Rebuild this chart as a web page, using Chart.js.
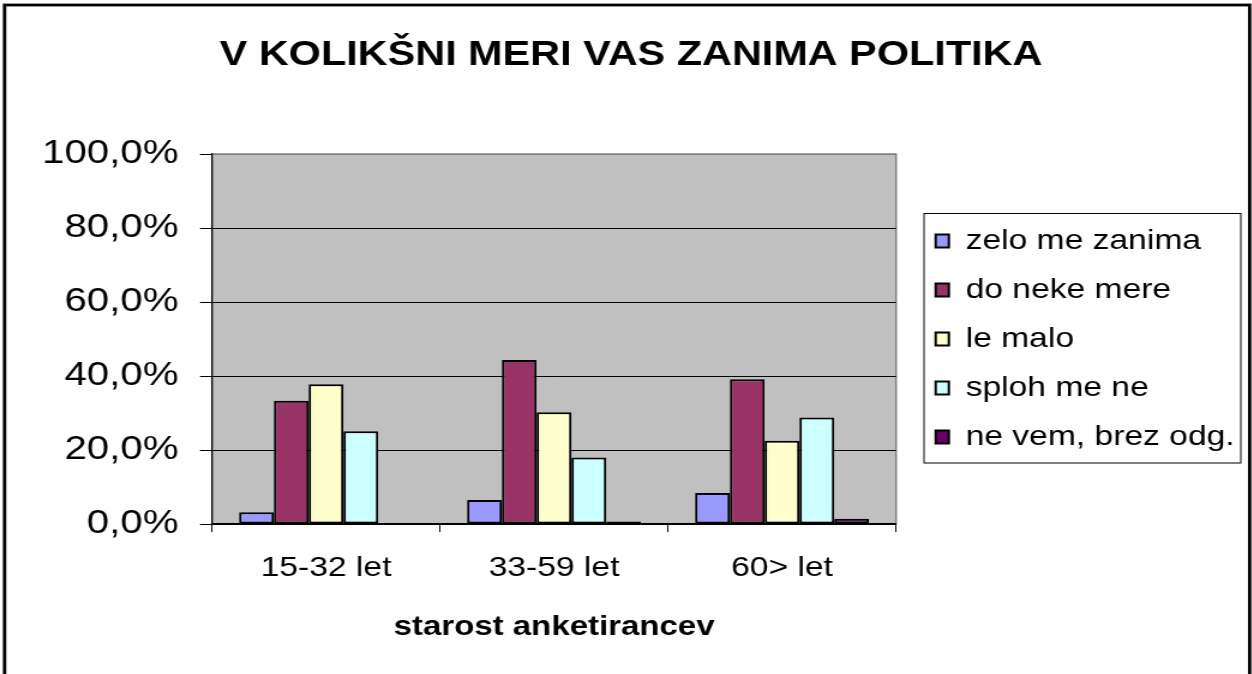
<!DOCTYPE html>
<html>
<head>
<meta charset="utf-8">
<title>V KOLIKŠNI MERI VAS ZANIMA POLITIKA</title>
<script src="https://cdn.jsdelivr.net/npm/chart.js@4.4.0/dist/chart.umd.min.js"></script>
<style>
html, body { margin: 0; padding: 0; background: #fff; overflow: hidden; }
/* the original picture is stretched sideways, so the canvas is too */
#chart { display: block; transform: scaleX(1.2); transform-origin: 0 0; }
</style>
</head>
<body>
<canvas id="chart" width="1044" height="674"></canvas>
<script>
// ─── DATA ───────────────────────────────────────────────────────────────────────
var categories = ['15-32 let', '33-59 let', '60> let'];
var seriesNames = ['zelo me zanima', 'do neke mere', 'le malo', 'sploh me ne', 'ne vem, brez odg.'];
var zeloMeZanima = [3.2, 6.5, 8.4];
var doNekeMere = [33.3, 44.3, 39.1];
var leMalo = [37.8, 30.2, 22.5];
var splohMeNe = [25.1, 18.0, 28.8];
var neVem = [0, 0.7, 1.4];
var yMin = 0;
var yMax = 100;
var yStep = 20;
var seriesColors = ['#9999FF', '#993366', '#FFFFCC', '#CCFFFF', '#660066'];

var seriesValues = [zeloMeZanima, doNekeMere, leMalo, splohMeNe, neVem];
var datasets = [];
for (var i = 0; i < seriesNames.length; i++) {
    datasets.push({
        label: seriesNames[i],
        data: seriesValues[i],
        backgroundColor: seriesColors[i],
        borderColor: '#000',
        borderWidth: 2,
        borderSkipped: false,
        categoryPercentage: 0.763,
        barPercentage: 1
    });
}

Chart.defaults.font.family = '"Liberation Sans", Arial, sans-serif';
Chart.defaults.color = '#000';

// ─── FRAME: gray plot area, legend box, outer border ────────────────────────────
var framePlugin = {
    id: 'frame',
    afterLayout: function (chart) {
        // push the legend a little right of the plot, as in the original
        var lg = chart.legend;
        var dx = 758.7 - lg.left;
        lg.left += dx;
        lg.right += dx;
    },
    beforeDraw: function (chart) {
        var ctx = chart.ctx;
        var a = chart.chartArea;
        ctx.save();
        ctx.fillStyle = '#fff';
        ctx.fillRect(0, 0, chart.width, chart.height);
        ctx.fillStyle = '#C0C0C0';
        ctx.fillRect(a.left, a.top, a.right - a.left, a.bottom - a.top);
        ctx.strokeStyle = '#808080';
        ctx.lineWidth = 1.5;
        ctx.strokeRect(a.left, a.top, a.right - a.left, a.bottom - a.top);
        ctx.restore();
    },
    afterDraw: function (chart) {
        var ctx = chart.ctx;
        ctx.save();
        ctx.strokeStyle = '#000';
        ctx.lineWidth = 1;
        ctx.strokeRect(770, 213.5, 264, 249.5);
        ctx.lineWidth = 2.8;
        ctx.strokeRect(3.8, 5, 1037.6, 720);
        ctx.restore();
    }
};

var chart = new Chart(document.getElementById('chart'), {
    type: 'bar',
    data: {
        labels: categories,
        datasets: datasets
    },
    options: {
        responsive: false,
        animation: false,
        devicePixelRatio: 1,
        layout: {
            padding: { left: 35, right: 27.3, top: 8, bottom: 0 }
        },
        plugins: {
            title: {
                display: true,
                text: 'V KOLIKŠNI MERI VAS ZANIMA POLITIKA',
                color: '#000',
                font: { size: 34.5, weight: 'bold' },
                padding: { top: 26.3, bottom: 78.3 }
            },
            legend: {
                position: 'right',
                fullSize: false,
                maxWidth: 270,
                labels: {
                    color: '#000',
                    font: { size: 28 },
                    boxWidth: 11,
                    boxHeight: 13,
                    padding: 21
                }
            },
            tooltip: { enabled: false }
        },
        scales: {
            x: {
                afterFit: function (scale) { scale.height = 150; },
                grid: {
                    drawOnChartArea: false,
                    offset: true,
                    color: '#000',
                    tickColor: '#000',
                    tickLength: 8
                },
                border: { color: '#000', width: 1.5 },
                ticks: {
                    color: '#000',
                    font: { size: 28 },
                    padding: 19,
                    maxRotation: 0
                },
                title: {
                    display: true,
                    text: 'starost anketirancev',
                    color: '#000',
                    font: { size: 27.5, weight: 'bold' },
                    padding: { top: 0, bottom: 30 }
                }
            },
            y: {
                min: yMin,
                max: yMax,
                afterFit: function (scale) { scale.width = 141.7; },
                grid: {
                    color: function (c) {
                        return c.tick && c.tick.value === yMax ? '#808080' : '#000';
                    },
                    tickColor: '#000',
                    tickLength: 10,
                    lineWidth: 1
                },
                border: { color: '#000', width: 1.2 },
                ticks: {
                    stepSize: yStep,
                    color: '#000',
                    font: { size: 33.5 },
                    padding: 18,
                    callback: function (v) {
                        return v.toFixed(1).replace('.', ',') + '%';
                    }
                }
            }
        }
    },
    plugins: [framePlugin]
});
</script>
</body>
</html>
